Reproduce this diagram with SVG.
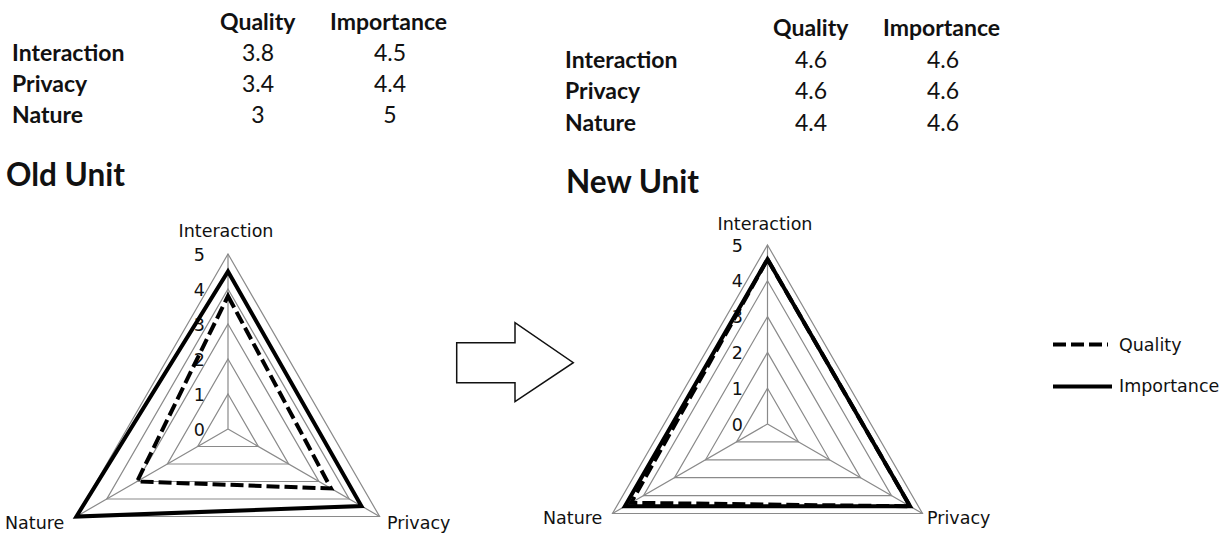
<svg xmlns="http://www.w3.org/2000/svg" width="1226" height="533" viewBox="0 0 1226 533">
<style>
.tb{font-family:Lato,"Liberation Sans",sans-serif;font-weight:bold;font-size:23px;fill:#111}
.tn{font-family:Lato,"Liberation Sans",sans-serif;font-size:23px;fill:#111;text-anchor:middle}
.ttl{font-family:Lato,"Liberation Sans",sans-serif;font-weight:bold;font-size:31.5px;fill:#111}
.lab{font-family:"DejaVu Sans",sans-serif;font-size:17.5px;fill:#111}
.ax{font-family:"DejaVu Sans",sans-serif;font-size:17.5px;fill:#111;text-anchor:end}
.grid{fill:none;stroke:#8a8a8a;stroke-width:1.2}
.imp{fill:none;stroke:#000;stroke-width:4;stroke-linejoin:miter}
.qual{fill:none;stroke:#000;stroke-width:4;stroke-dasharray:13 5}
</style>
<rect width="1226" height="533" fill="#fff"/>
<g id="table-old">
<text class="tb" x="220" y="30">Quality</text>
<text class="tb" x="330" y="30">Importance</text>
<text class="tb" x="12" y="61">Interaction</text>
<text class="tb" x="12" y="92">Privacy</text>
<text class="tb" x="12" y="123">Nature</text>
<text class="tn" x="258" y="61">3.8</text>
<text class="tn" x="390" y="61">4.5</text>
<text class="tn" x="258" y="92">3.4</text>
<text class="tn" x="390" y="92">4.4</text>
<text class="tn" x="258" y="123">3</text>
<text class="tn" x="390" y="123">5</text>
<text class="ttl" x="6" y="186">Old Unit</text>
</g>
<g id="table-new">
<text class="tb" x="773" y="36">Quality</text>
<text class="tb" x="883" y="36">Importance</text>
<text class="tb" x="565" y="68">Interaction</text>
<text class="tb" x="565" y="99">Privacy</text>
<text class="tb" x="565" y="131">Nature</text>
<text class="tn" x="811" y="68">4.6</text>
<text class="tn" x="943" y="68">4.6</text>
<text class="tn" x="811" y="99">4.6</text>
<text class="tn" x="943" y="99">4.6</text>
<text class="tn" x="811" y="131">4.4</text>
<text class="tn" x="943" y="131">4.6</text>
<text class="ttl" x="566" y="193">New Unit</text>
</g>
<g id="chart-old">
<polygon class="grid" points="228,394 258.3,446.5 197.7,446.5"/>
<polygon class="grid" points="228,359 288.6,464 167.4,464"/>
<polygon class="grid" points="228,324 318.9,481.5 137.1,481.5"/>
<polygon class="grid" points="228,289 349.2,499 106.8,499"/>
<polygon class="grid" points="228,254 379.6,516.5 76.4,516.5"/>
<path class="grid" d="M228,429V254M228,429L379.6,516.5M228,429L76.4,516.5"/>
<text class="ax" x="205" y="260.5">5</text>
<text class="ax" x="205" y="295.5">4</text>
<text class="ax" x="205" y="330.5">3</text>
<text class="ax" x="205" y="365.5">2</text>
<text class="ax" x="205" y="400.5">1</text>
<text class="ax" x="205" y="435.5">0</text>
<polygon class="qual" points="228,296 331.1,488.5 137.1,481.5"/>
<polygon class="imp" points="228,271.5 361.4,506 76.4,516.5"/>
<text class="lab" x="226" y="236.5" text-anchor="middle">Interaction</text>
<text class="lab" x="5" y="529">Nature</text>
<text class="lab" x="387" y="529">Privacy</text>
</g>
<g id="arrow">
<polygon points="456.7,342.7 515,342.7 515,322.7 573.3,362.7 515,401.7 515,382.7 456.7,382.7" fill="#fff" stroke="#111" stroke-width="1.5"/>
</g>
<g id="chart-new">
<polygon class="grid" points="767.5,388.2 798.5,441.9 736.5,441.9"/>
<polygon class="grid" points="767.5,352.4 829.5,459.8 705.5,459.8"/>
<polygon class="grid" points="767.5,316.6 860.5,477.7 674.5,477.7"/>
<polygon class="grid" points="767.5,280.8 891.5,495.6 643.5,495.6"/>
<polygon class="grid" points="767.5,245 922.5,513.5 612.5,513.5"/>
<path class="grid" d="M767.5,424V245M767.5,424L922.5,513.5M767.5,424L612.5,513.5"/>
<text class="ax" x="743" y="251.5">5</text>
<text class="ax" x="743" y="287.3">4</text>
<text class="ax" x="743" y="323.1">3</text>
<text class="ax" x="743" y="358.9">2</text>
<text class="ax" x="743" y="394.7">1</text>
<text class="ax" x="743" y="430.5">0</text>
<polygon class="imp" points="767.5,259.3 910.1,506.3 624.9,506.3"/>
<polygon class="qual" points="767.5,259.3 910.1,506.3 631.1,502.8"/>
<text class="lab" x="765" y="230" text-anchor="middle">Interaction</text>
<text class="lab" x="543" y="524">Nature</text>
<text class="lab" x="927" y="524">Privacy</text>
</g>
<g id="legend">
<line class="qual" x1="1053" y1="344.5" x2="1108" y2="344.5"/>
<line x1="1053" y1="386.5" x2="1112" y2="386.5" stroke="#000" stroke-width="4"/>
<text class="lab" x="1119" y="350.5">Quality</text>
<text class="lab" x="1119" y="392">Importance</text>
</g>
</svg>
